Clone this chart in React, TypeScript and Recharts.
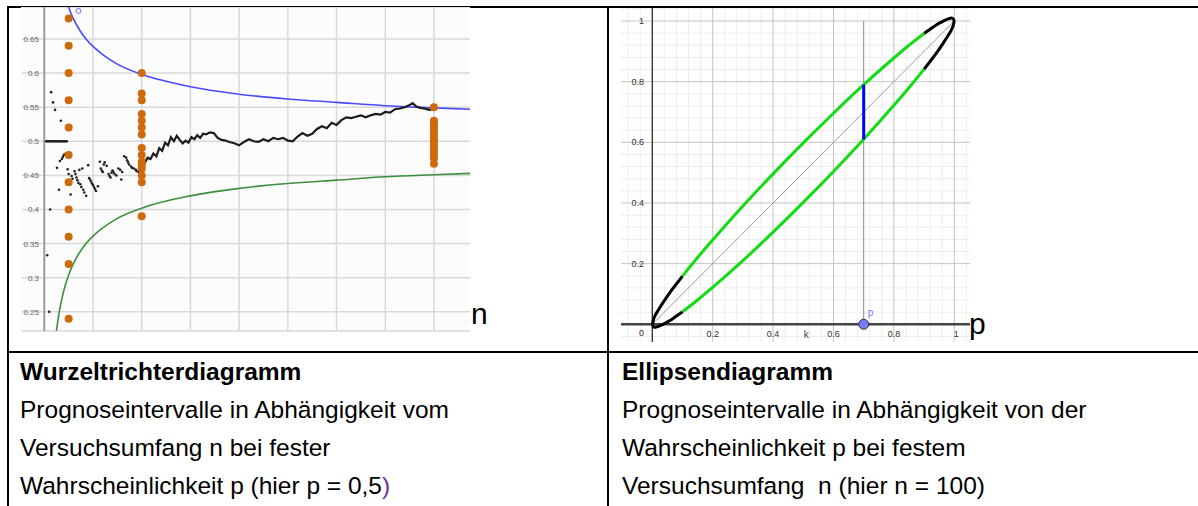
import React from "react";
import {
  ComposedChart,
  Line,
  Scatter,
  XAxis,
  YAxis,
  CartesianGrid,
  ReferenceLine,
  ReferenceDot,
} from "recharts";

// ---------- Wurzeltrichterdiagramm (links) ----------
const funnelYTicks = [0.25, 0.3, 0.35, 0.4, 0.45, 0.5, 0.55, 0.6, 0.65];
const funnelXTicks = [50, 100, 150, 200, 250, 300, 350, 400];
const funnelYDomain = [0.2219, 0.6968];
const funnelXDomain = [-22.9, 437];

const upperN = [24, 25, 30, 35, 40, 50, 60, 75, 100, 125, 150, 200, 250, 300, 350, 400, 437];
const upperVal = [0.7, 0.696, 0.679, 0.666, 0.655, 0.639, 0.627, 0.613, 0.598, 0.588, 0.58, 0.569, 0.562, 0.557, 0.552, 0.549, 0.547];

const lowerN = [12, 13, 15, 18, 20, 25, 30, 40, 50, 60, 75, 100, 150, 200, 250, 300, 350, 400, 437];
const lowerVal = [0.217, 0.228, 0.247, 0.269, 0.281, 0.304, 0.321, 0.345, 0.361, 0.373, 0.387, 0.402, 0.42, 0.431, 0.438, 0.443, 0.448, 0.451, 0.453];

// relative Häufigkeit (Simulation), n >= 100
const walkN = [
  100, 103, 106, 109, 112, 115, 118, 121, 124, 127, 130, 133, 136, 139, 142, 145, 148, 151, 154, 157,
  160, 163, 166, 170, 174, 178, 182, 186, 190, 195, 200, 205, 210, 215, 220, 225, 230, 235, 240, 245,
  250, 255, 260, 265, 270, 275, 280, 285, 290, 295, 300, 305, 310, 315, 320, 325, 330, 335, 340, 345,
  350, 355, 360, 365, 370, 375, 378, 382, 386, 390, 395, 400,
];
const walkVal = [
  0.472, 0.468, 0.476, 0.474, 0.482, 0.478, 0.49, 0.486, 0.498, 0.494, 0.506, 0.5, 0.508, 0.502, 0.497, 0.501, 0.498, 0.506, 0.503, 0.509,
  0.505, 0.511, 0.51, 0.513, 0.512, 0.505, 0.502, 0.501, 0.499, 0.497, 0.494, 0.499, 0.503, 0.5, 0.499, 0.503, 0.5, 0.505, 0.503, 0.505,
  0.501, 0.5, 0.507, 0.512, 0.508, 0.511, 0.518, 0.522, 0.519, 0.527, 0.524, 0.531, 0.535, 0.534, 0.536, 0.538, 0.535, 0.538, 0.54, 0.539,
  0.543, 0.542, 0.547, 0.548, 0.55, 0.553, 0.556, 0.551, 0.549, 0.548, 0.546, 0.547,
];

// frühe Einzelpunkte (n < 100)
const earlyN = [
  2, 3, 4, 5, 6, 7, 8, 9, 10, 11, 12, 13, 14, 15, 16, 17, 18, 19, 20, 21, 22, 23,
  3, 5, 6, 7, 9, 11, 13, 15, 16, 17, 18, 19, 20, 22, 24, 25, 27, 28, 29, 31, 32, 33, 34, 35, 36, 37, 38, 39, 40, 41, 43,
  45, 46, 47, 48, 49, 50, 51, 52, 53, 55, 57, 58, 59, 60, 61, 62, 64, 66, 67, 68, 69, 70, 71, 72, 74, 76, 78, 79, 80,
  82, 84, 85, 86, 87, 89, 90, 92, 94, 95, 97, 98, 99,
];
const earlyVal = [
  0.5, 0.5, 0.5, 0.5, 0.5, 0.5, 0.5, 0.5, 0.5, 0.5, 0.5, 0.5, 0.5, 0.5, 0.5, 0.5, 0.5, 0.5, 0.5, 0.5, 0.5, 0.5,
  0.333, 0.25, 0.4, 0.572, 0.557, 0.546, 0.461, 0.429, 0.471, 0.53, 0.474, 0.477, 0.48, 0.482, 0.459, 0.452, 0.422, 0.449, 0.445, 0.456, 0.452, 0.447, 0.443, 0.439, 0.458, 0.437, 0.433, 0.46, 0.429, 0.425, 0.42,
  0.465, 0.446, 0.444, 0.441, 0.438, 0.436, 0.433, 0.43, 0.427, 0.434, 0.47, 0.46, 0.457, 0.455, 0.466, 0.469, 0.464, 0.452, 0.449, 0.447, 0.454, 0.457, 0.455, 0.452, 0.45, 0.46, 0.458, 0.444, 0.455,
  0.478, 0.476, 0.472, 0.469, 0.466, 0.463, 0.461, 0.46, 0.458, 0.456, 0.455, 0.451, 0.462,
];

// Prognoseintervall-Punkte (orange)
const orangeN = [
  25, 25, 25, 25, 25, 25, 25, 25, 25, 25, 25,
  100, 100, 100, 100, 100, 100, 100, 100, 100, 100, 100, 100, 100, 100, 100,
  400, 400, 400, 400, 400, 400, 400, 400, 400, 400, 400, 400, 400, 400,
];
const orangeVal = [
  0.68, 0.64, 0.6, 0.56, 0.52, 0.48, 0.44, 0.4, 0.36, 0.32, 0.24,
  0.6, 0.57, 0.56, 0.54, 0.53, 0.52, 0.51, 0.49, 0.48, 0.47, 0.46, 0.45, 0.44, 0.465, 0.39,
  0.55, 0.53, 0.525, 0.52, 0.515, 0.51, 0.505, 0.5, 0.495, 0.49, 0.485, 0.48, 0.475, 0.467,
];

// ---------- Ellipsendiagramm (rechts) ----------
const ellipseTicks = [0, 0.2, 0.4, 0.6, 0.8, 1];
const ellipseMinor = [
  -0.08, -0.04, 0.04, 0.08, 0.12, 0.16, 0.24, 0.28, 0.32, 0.36, 0.44, 0.48, 0.52, 0.56,
  0.64, 0.68, 0.72, 0.76, 0.84, 0.88, 0.92, 0.96, 1.04,
];
const ellipseP = [0, 0.005, 0.01, 0.02, 0.04, 0.06, 0.08, 0.1, 0.15, 0.2, 0.3, 0.4, 0.5, 0.6, 0.7, 0.8, 0.85, 0.9, 0.92, 0.94, 0.96, 0.98, 0.99, 0.995, 1];
const ellipseUpper = [0, 0.019, 0.03, 0.047, 0.078, 0.107, 0.133, 0.159, 0.22, 0.278, 0.39, 0.496, 0.598, 0.696, 0.79, 0.878, 0.92, 0.959, 0.973, 0.987, 0.998, 1.007, 1.01, 1.009, 1];
const ellipseLower = [0, -0.009, -0.01, -0.007, 0.002, 0.013, 0.027, 0.041, 0.08, 0.122, 0.21, 0.304, 0.402, 0.504, 0.61, 0.722, 0.78, 0.841, 0.867, 0.893, 0.922, 0.953, 0.97, 0.981, 1];
const pPoint = 0.7;
const pInterval = [0.61, 0.79];

const zip = (xs: number[], ys: number[]) => xs.map((x, i) => ({ x, y: ys[i] }));

const upperData = zip(upperN, upperVal);
const lowerData = zip(lowerN, lowerVal);
const walkData = zip(walkN, walkVal);
const earlyData = zip(earlyN, earlyVal);
const orangeData = zip(orangeN, orangeVal);

const ellUp = zip(ellipseP, ellipseUpper);
const ellLo = zip(ellipseP, ellipseLower);
const inRange = (a: number, b: number) => (d: { x: number }) => d.x >= a && d.x <= b;
const upBlackL = ellUp.filter(inRange(0, 0.1));
const upGreen = ellUp.filter(inRange(0.1, 0.9));
const upBlackR = ellUp.filter(inRange(0.9, 1));
const loBlackL = ellLo.filter(inRange(0, 0.1));
const loGreen = ellLo.filter(inRange(0.1, 0.9));
const loBlackR = ellLo.filter(inRange(0.9, 1));

const FONT = '"Liberation Sans", Arial, sans-serif';

const FunnelTick = (props: any) => (
  <text x={props.x + 17} y={props.y + 3} textAnchor="end" fontSize={8} fill="#666" fontFamily={FONT}>
    {String(props.payload.value)}
  </text>
);

const EllYTick = (props: any) => {
  const v = props.payload.value;
  return (
    <text x={props.x + 23} y={props.y + (v === 0 ? 12 : 3)} textAnchor="end" fontSize={9} fill="#333" fontFamily={FONT}>
      {String(v)}
    </text>
  );
};

const EllXTick = (props: any) => {
  const v = props.payload.value;
  if (v === 0) return <g />;
  return (
    <text x={props.x + (v === 1 ? 2 : 0)} y={props.y - 5} textAnchor="middle" fontSize={9} fill="#333" fontFamily={FONT}>
      {String(v)}
    </text>
  );
};

const NoTick = () => <g />;

function FunnelChart() {
  return (
    <ComposedChart width={449} height={325} margin={{ top: 0, right: 0, bottom: 0, left: 0 }} style={{ background: "#fcfcfc" }}>
      <CartesianGrid stroke="#d9d9d9" strokeWidth={1.5} vertical={false} />
      <XAxis type="number" dataKey="x" domain={funnelXDomain} ticks={funnelXTicks} interval={0} allowDataOverflow height={1} tickSize={0} tickMargin={0} tick={<NoTick />} axisLine={false} tickLine={false} />
      <YAxis type="number" domain={funnelYDomain} ticks={funnelYTicks} interval={0} allowDataOverflow width={1} tickSize={0} tickMargin={0} axisLine={false} tickLine={false} tick={<FunnelTick />} />
      {funnelXTicks.map((v) => (
        <Line
          key={`fx${v}`}
          data={[{ x: v, y: funnelYDomain[0] }, { x: v, y: funnelYDomain[1] }]}
          dataKey="y"
          type="linear"
          stroke="#d9d9d9"
          strokeWidth={1.5}
          dot={false}
          activeDot={false}
          isAnimationActive={false}
        />
      ))}
      <ReferenceLine x={0} stroke="#9a9a9a" strokeWidth={2} />
      <Line data={upperData} dataKey="y" type="monotone" stroke="#4a4aff" strokeWidth={1.6} dot={false} isAnimationActive={false} />
      <Line data={lowerData} dataKey="y" type="monotone" stroke="#3f8f3f" strokeWidth={1.6} dot={false} isAnimationActive={false} />
      <Scatter
        data={earlyData}
        dataKey="y"
        isAnimationActive={false}
        shape={(p: any) => <circle cx={p.cx} cy={p.cy} r={1.3} fill="#222" />}
      />
      <Line data={walkData} dataKey="y" type="linear" stroke="#1c1c1c" strokeWidth={2.2} dot={false} isAnimationActive={false} />
      <Scatter
        data={orangeData}
        dataKey="y"
        isAnimationActive={false}
        shape={(p: any) => <circle cx={p.cx} cy={p.cy} r={4} fill="#cf6a0c" />}
      />
      <ReferenceDot x={35} y={0.691} r={2.5} fill="none" stroke="#6b6bff" strokeWidth={1} />
    </ComposedChart>
  );
}

function EllipseChart() {
  return (
    <ComposedChart width={350} height={335} margin={{ top: 0, right: 0, bottom: 0, left: 0 }} style={{ background: "#fff" }}>
      {ellipseMinor.map((v) => (
        <ReferenceLine key={`mx${v}`} x={v} stroke="#ededed" strokeWidth={1} />
      ))}
      {ellipseMinor.map((v) => (
        <ReferenceLine key={`my${v}`} y={v} stroke="#ededed" strokeWidth={1} />
      ))}
      {ellipseTicks.map((v) => (
        <ReferenceLine key={`gx${v}`} x={v} stroke="#c4c4c4" strokeWidth={1} />
      ))}
      {ellipseTicks.map((v) => (
        <ReferenceLine key={`gy${v}`} y={v} stroke="#c4c4c4" strokeWidth={1} />
      ))}
      <XAxis type="number" dataKey="x" domain={[-0.1036, 1.052]} ticks={ellipseTicks} interval={0} allowDataOverflow height={1} tickSize={0} tickMargin={0} axisLine={false} tickLine={false} tick={<EllXTick />} />
      <YAxis type="number" domain={[-0.0584, 1.0429]} ticks={ellipseTicks} interval={0} allowDataOverflow width={1} tickSize={0} tickMargin={0} axisLine={false} tickLine={false} tick={<EllYTick />} />
      <ReferenceLine x={0} stroke="#222" strokeWidth={1.2} />
      <ReferenceLine y={0} stroke="#444" strokeWidth={2.5} />
      <ReferenceLine segment={[{ x: pPoint, y: 0 }, { x: pPoint, y: 1 }]} stroke="#8a8a8a" strokeWidth={1} />
      <Line data={[{ x: 0, y: 0 }, { x: 1, y: 1 }]} dataKey="y" type="linear" stroke="#9a9a9a" strokeWidth={1} dot={false} isAnimationActive={false} />
      <Line data={upBlackL} dataKey="y" type="monotone" stroke="#000" strokeWidth={3} dot={false} isAnimationActive={false} />
      <Line data={loBlackL} dataKey="y" type="monotone" stroke="#000" strokeWidth={3} dot={false} isAnimationActive={false} />
      <Line data={upBlackR} dataKey="y" type="monotone" stroke="#000" strokeWidth={3} dot={false} isAnimationActive={false} />
      <Line data={loBlackR} dataKey="y" type="monotone" stroke="#000" strokeWidth={3} dot={false} isAnimationActive={false} />
      <Line data={upGreen} dataKey="y" type="monotone" stroke="#14dc14" strokeWidth={3} dot={false} isAnimationActive={false} />
      <Line data={loGreen} dataKey="y" type="monotone" stroke="#14dc14" strokeWidth={3} dot={false} isAnimationActive={false} />
      <Line
        data={[{ x: pPoint, y: pInterval[0] }, { x: pPoint, y: pInterval[1] }]}
        dataKey="y"
        type="linear"
        stroke="#0000ff"
        strokeWidth={3}
        dot={false}
        isAnimationActive={false}
      />
      <ReferenceDot x={0.51} y={-0.033} r={0} label={{ value: "k", position: "center", fill: "#444", fontSize: 10, fontFamily: FONT }} />
      <ReferenceDot x={0.723} y={0.04} r={0} label={{ value: "p", position: "center", fill: "#7b7bff", fontSize: 10, fontFamily: FONT }} />
      <ReferenceDot x={pPoint} y={0} r={5} fill="#7b7bff" stroke="#333" strokeWidth={1} />
    </ComposedChart>
  );
}

const textStyle: React.CSSProperties = {
  position: "absolute",
  top: 353,
  fontFamily: FONT,
  fontSize: 24.5,
  lineHeight: "38px",
  color: "#000",
  whiteSpace: "nowrap",
};

export default function App() {
  return (
    <div style={{ position: "absolute", left: 0, top: 0, width: 1198, height: 506, background: "#fff", overflow: "hidden" }}>
      {/* Tabellenrahmen */}
      <div style={{ position: "absolute", left: 7, top: 6, width: 1191, height: 2, background: "#000" }} />
      <div style={{ position: "absolute", left: 7, top: 6, width: 2, height: 500, background: "#000" }} />
      <div style={{ position: "absolute", left: 607, top: 6, width: 2, height: 500, background: "#000" }} />
      <div style={{ position: "absolute", left: 7, top: 351, width: 1191, height: 2, background: "#000" }} />

      <div style={{ position: "absolute", left: 21, top: 7 }}>
        <FunnelChart />
      </div>
      <div style={{ position: "absolute", left: 471, top: 296, fontFamily: FONT, fontSize: 30, lineHeight: "36px" }}>n</div>

      <div style={{ position: "absolute", left: 620, top: 8 }}>
        <EllipseChart />
      </div>
      <div style={{ position: "absolute", left: 969, top: 306, fontFamily: FONT, fontSize: 30, lineHeight: "36px" }}>p</div>

      <div style={{ ...textStyle, left: 20 }}>
        <div style={{ fontWeight: "bold" }}>Wurzeltrichterdiagramm</div>
        <div>Prognoseintervalle in Abhängigkeit vom</div>
        <div>Versuchsumfang n bei fester</div>
        <div>
          Wahrscheinlichkeit p (hier p = 0,5<span style={{ color: "#7030a0" }}>)</span>
        </div>
      </div>
      <div style={{ ...textStyle, left: 622 }}>
        <div style={{ fontWeight: "bold" }}>Ellipsendiagramm</div>
        <div>Prognoseintervalle in Abhängigkeit von der</div>
        <div>Wahrscheinlichkeit p bei festem</div>
        <div>Versuchsumfang&nbsp; n (hier n = 100)</div>
      </div>
    </div>
  );
}
